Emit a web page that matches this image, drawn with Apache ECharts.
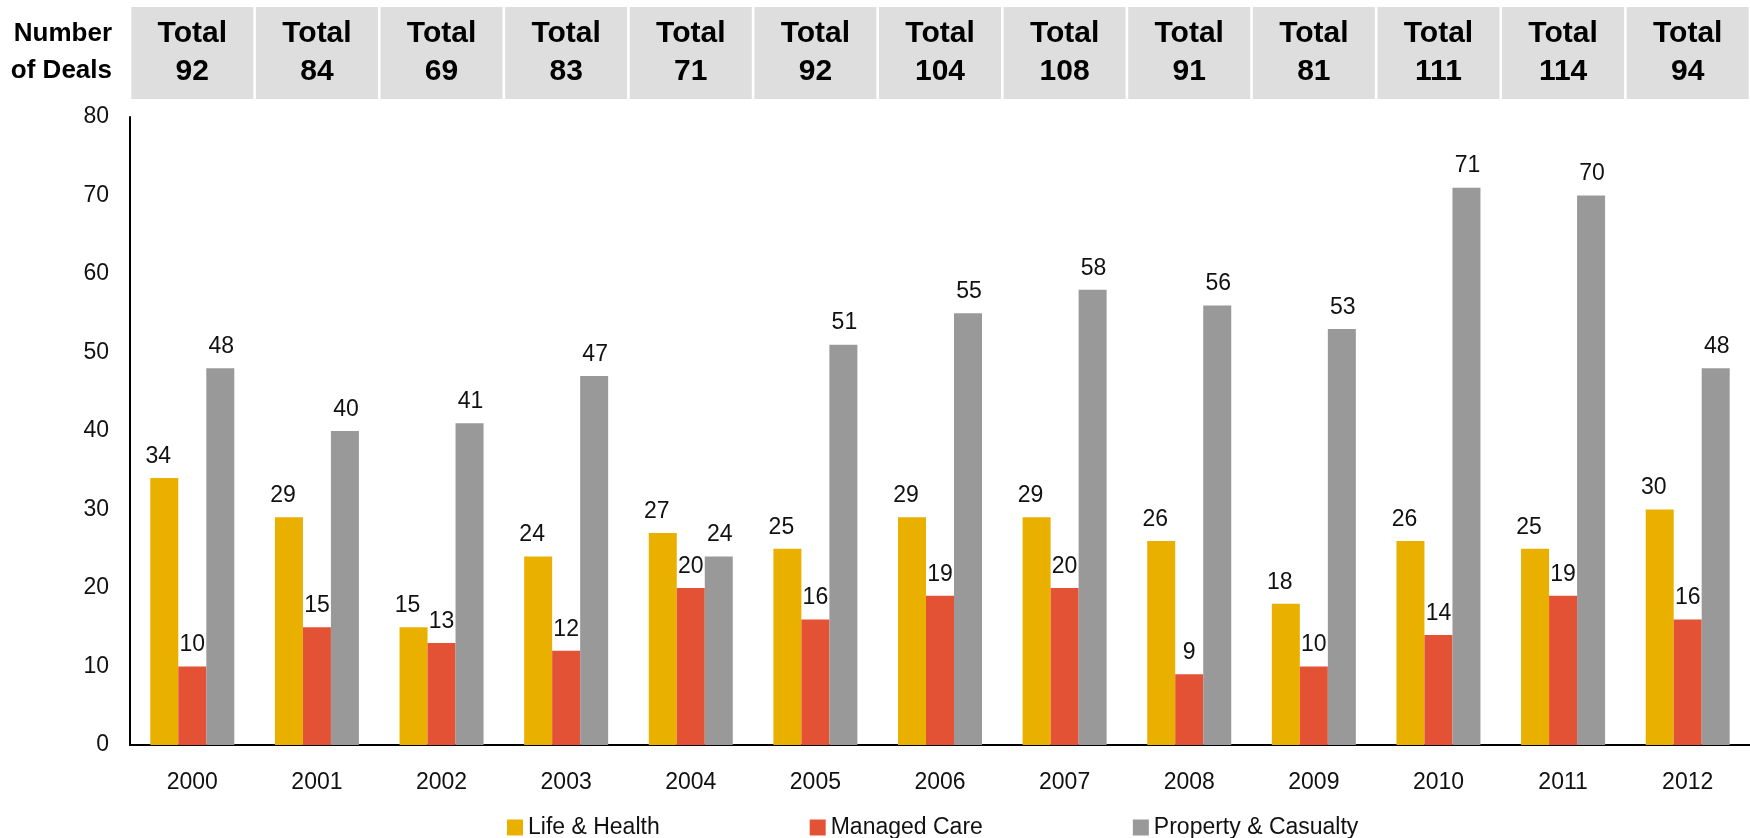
<!DOCTYPE html>
<html>
<head>
<meta charset="utf-8">
<script src="https://cdn.jsdelivr.net/npm/echarts@6/dist/echarts.min.js"></script>
<style>
html,body{margin:0;padding:0;background:#fff;}
#chart{width:1750px;height:838px;}
</style>
</head>
<body>
<div id="chart"></div>
<script>
const years = ['2000','2001','2002','2003','2004','2005','2006','2007','2008','2009','2010','2011','2012'];
const totals = [92,84,69,83,71,92,104,108,91,81,111,114,94];
const lifeHealth = [34,29,15,24,27,25,29,29,26,18,26,25,30];
const managedCare = [10,15,13,12,20,16,19,20,9,10,14,19,16];
const propertyCasualty = [48,40,41,47,24,51,55,58,56,53,71,70,48];
const yTicks = {min:0, max:80, interval:10};
const yAxisTitle = 'Number\nof Deals';

const FONT = "'Liberation Sans', Arial, sans-serif";
const chart = echarts.init(document.getElementById('chart'));

function barSeries(name, data, color, dx) {
  return {
    name, type: 'bar', data, barWidth: 28, barGap: '0%',
    itemStyle: {color},
    label: {
      show: true, position: 'top', distance: 10, offset: [dx, 0],
      color: '#111', fontSize: 23, fontFamily: FONT
    },
    emphasis: {disabled: true}
  };
}

chart.setOption({
  animation: false,
  textStyle: {fontFamily: FONT},
  title: {
    text: yAxisTitle, left: 112, top: 15, textAlign: 'right', padding: 0,
    textStyle: {fontSize: 26, fontWeight: 'bold', color: '#000', fontFamily: FONT, lineHeight: 37}
  },
  grid: {left: 130, right: 0, top: 117, bottom: 93, containLabel: false, outerBoundsMode: 'none'},
  legend: {
    left: 502, top: 811,
    itemWidth: 16, itemHeight: 16, itemGap: 150,
    icon: 'rect',
    textStyle: {fontSize: 23, color: '#111', fontFamily: FONT},
    data: ['Life & Health', 'Managed Care', 'Property & Casualty']
  },
  xAxis: [
    {
      type: 'category', data: years, position: 'bottom',
      axisLine: {show: true, lineStyle: {color: '#000', width: 2}},
      axisTick: {show: false},
      axisLabel: {fontSize: 23, color: '#111', margin: 26, interval: 0, fontFamily: FONT}
    },
    {
      type: 'category', data: totals.map(String), position: 'top',
      axisLine: {show: false}, axisTick: {show: false},
      axisLabel: {
        interval: 0, margin: 18,
        formatter: v => 'Total\n' + v,
        fontSize: 30, fontWeight: 'bold', color: '#000', fontFamily: FONT,
        lineHeight: 38, width: 122, align: 'center',
        backgroundColor: '#dedede', padding: [8, 0, 8, 0]
      }
    }
  ],
  yAxis: {
    type: 'value', min: yTicks.min, max: yTicks.max, interval: yTicks.interval,
    axisLine: {show: true, lineStyle: {color: '#000', width: 2}},
    axisTick: {show: false},
    splitLine: {show: false},
    axisLabel: {fontSize: 23, color: '#111', margin: 21, fontFamily: FONT}
  },
  series: [
    barSeries('Life & Health', lifeHealth, '#EAB000', -6),
    barSeries('Managed Care', managedCare, '#E35235', 0),
    barSeries('Property & Casualty', propertyCasualty, '#999999', 1)
  ]
});
</script>
</body>
</html>
